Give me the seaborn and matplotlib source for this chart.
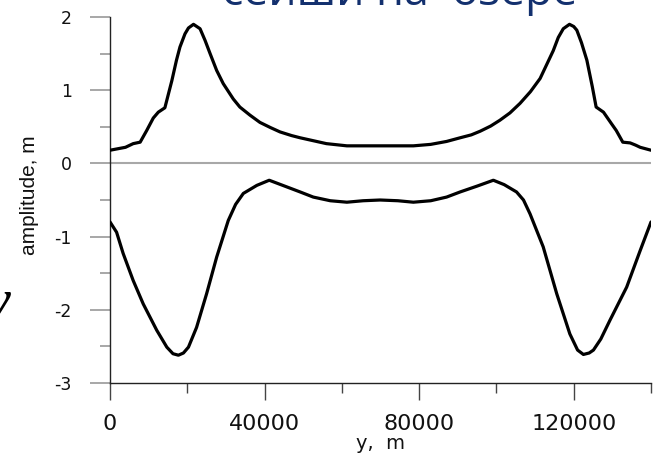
import matplotlib
matplotlib.use("Agg")
import matplotlib.pyplot as plt
from matplotlib import font_manager
from matplotlib.ticker import FixedLocator
import pandas as pd
import seaborn as sns

# Across-lake position (m) and amplitude (m) for the upper envelope
y_upper = [0, 2000, 4000, 6000, 7800, 9500, 11200, 12500, 14200, 16000, 17200,
           18100, 19400, 20300, 21600, 23300, 24600, 25900, 27600, 29300,
           31900, 33600, 36200, 38800, 41500, 44000, 47000, 49200, 52600,
           56000, 61300, 65000, 70000, 75000, 78500, 83000, 87100, 90600,
           93500, 95800, 98500, 100900, 103500, 106100, 108800, 111300,
           113000, 114700, 116000, 117300, 118900, 120000, 120800, 122000,
           123400, 124800, 125800, 127700, 129800, 131000, 132700, 134600,
           136000, 137200, 140000]
amp_upper = [0.18, 0.20, 0.22, 0.27, 0.29, 0.45, 0.62, 0.70, 0.76, 1.13, 1.41,
             1.59, 1.77, 1.85, 1.90, 1.84, 1.68, 1.50, 1.27, 1.09,
             0.88, 0.77, 0.66, 0.56, 0.49, 0.43, 0.38, 0.35, 0.31,
             0.27, 0.24, 0.24, 0.24, 0.24, 0.24, 0.26, 0.30, 0.35,
             0.39, 0.44, 0.51, 0.59, 0.69, 0.82, 0.98, 1.16,
             1.35, 1.54, 1.72, 1.84, 1.90, 1.87, 1.82, 1.65,
             1.41, 1.05, 0.77, 0.70, 0.54, 0.45, 0.29, 0.28,
             0.25, 0.22, 0.18]

# Across-lake position (m) and amplitude (m) for the lower envelope
y_lower = [0, 1700, 3400, 6000, 8600, 12100, 14700, 16300, 17700, 19000,
           20300, 22400, 25000, 27600, 30600, 32500, 34500, 38000, 41200,
           45700, 49200, 52600, 57000, 61300, 65500, 69900, 74500, 78500,
           83000, 87100, 90600, 95000, 99200, 102000, 105200, 107000,
           108700, 112100, 115600, 119000, 121000, 122500, 124000, 125100,
           127000, 129400, 133700, 137200, 140000]
amp_lower = [-0.80, -0.94, -1.23, -1.60, -1.92, -2.28, -2.51, -2.60, -2.62, -2.59,
             -2.51, -2.24, -1.78, -1.28, -0.78, -0.56, -0.41, -0.30, -0.23,
             -0.32, -0.39, -0.46, -0.51, -0.53, -0.51, -0.50, -0.51, -0.53,
             -0.51, -0.46, -0.39, -0.31, -0.23, -0.29, -0.39, -0.50,
             -0.69, -1.14, -1.78, -2.33, -2.55, -2.61, -2.59, -2.55,
             -2.40, -2.14, -1.69, -1.19, -0.80]

x_major = [0, 40000, 80000, 120000]
x_minor = [20000, 60000, 100000, 140000]
y_major = [-3, -2, -1, 0, 1, 2]
y_minor = [-2.5, -1.5, -0.5, 0.5, 1.5]

upper = pd.DataFrame({"y": y_upper, "amp": amp_upper})
lower = pd.DataFrame({"y": y_lower, "amp": amp_lower})

sns.set_theme(style="ticks")
plt.rcParams["font.family"] = ["DejaVu Sans"]


def pick_family(names):
    for n in names:
        try:
            font_manager.findfont(n, fallback_to_default=False)
            return n
        except Exception:
            continue
    return "DejaVu Sans"


label_family = pick_family(["Liberation Sans Narrow", "Liberation Sans"])

fig = plt.figure(figsize=(6.56, 4.57), dpi=100)
ax = fig.add_axes([0.1677, 0.1619, 0.8247, 0.8009])

# zero reference line
ax.axhline(0, color="#a8a8a8", lw=1.5, zorder=1)

sns.lineplot(data=upper, x="y", y="amp", color="black", lw=2.3, sort=False,
             ax=ax, zorder=3)
sns.lineplot(data=lower, x="y", y="amp", color="black", lw=2.3, sort=False,
             ax=ax, zorder=3)

ax.set_xlim(0, 140000)
ax.set_ylim(-3, 2)
ax.xaxis.set_major_locator(FixedLocator(x_major))
ax.xaxis.set_minor_locator(FixedLocator(x_minor))
ax.yaxis.set_major_locator(FixedLocator(y_major))
ax.yaxis.set_minor_locator(FixedLocator(y_minor))
ax.set_xticklabels([str(v) for v in x_major])
ax.set_yticklabels([str(v) for v in y_major])

for side in ("top", "right"):
    ax.spines[side].set_visible(False)
for side in ("left", "bottom"):
    ax.spines[side].set_color("#222222")
    ax.spines[side].set_linewidth(1.0)

ax.tick_params(axis="y", which="major", length=14.4, width=1.3,
               color="#a0a0a0", labelsize=12.5, pad=13, labelcolor="#111111")
ax.tick_params(axis="y", which="minor", length=7.2, width=1.3,
               color="#a0a0a0")
ax.tick_params(axis="x", which="major", length=12, width=1.0,
               color="#444444", labelsize=16, pad=10, labelcolor="#111111")
ax.tick_params(axis="x", which="minor", length=7, width=1.0,
               color="#444444")

ax.set_xlabel("y,  m", fontsize=14, color="#111111", va="center")
ax.xaxis.set_label_coords(0.5, -0.166)
ax.set_ylabel("amplitude, m", fontsize=15, color="#111111",
              family=label_family, va="center", ha="center")
ax.yaxis.set_label_coords(-0.148, 0.514)

# slide heading and neighbouring formula, mostly outside the frame
fig.text(0.338, 0.990, "сейши на  озере", color="#13306e", fontsize=32,
         family=["Open Sans", "DejaVu Sans"], ha="left", va="baseline")
fig.text(0.016, 0.305, "y", color="black", fontsize=42, style="italic",
         family=["Liberation Serif", "DejaVu Serif"], ha="right",
         va="baseline")

fig.savefig("out.png", dpi=100)
